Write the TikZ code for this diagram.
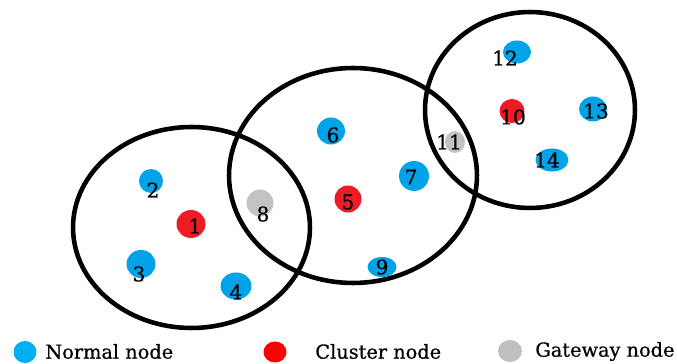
\documentclass[tikz,border=0pt]{standalone}
\usepackage{fontspec}
\setmainfont{DejaVu Serif}[FakeBold=0.6]
\usetikzlibrary{shapes.geometric}
\definecolor{nblue}{HTML}{00A2E8}
\definecolor{nred}{HTML}{ED1C24}
\definecolor{ngray}{HTML}{C3C3C3}
\definecolor{lblue}{HTML}{00B0F0}
\definecolor{lred}{HTML}{FF0000}
\definecolor{lgray}{HTML}{BFBFBF}
\tikzset{
  ring/.style={draw=black, line width=2.6pt},
  dot/.style={ellipse, inner sep=0pt, draw=none},
  normal/.style={dot, fill=nblue},
  head/.style={dot, fill=nred},
  gate/.style={dot, fill=ngray},
  num/.style={font=\fontsize{11.5}{13}\selectfont, inner sep=0pt, text=black},
  legtext/.style={font=\fontsize{11}{13}\selectfont, inner sep=0pt, anchor=west, text=black},
}
\begin{document}
\begin{tikzpicture}[x=0.02cm, y=-0.02cm]
\useasboundingbox (0,0) rectangle (677,364);

% cluster boundaries
\draw[ring] (191.5,227.5) ellipse [x radius=2.37cm, y radius=2.01cm];
\draw[ring] (353,175.5) ellipse [x radius=2.48cm, y radius=2.15cm];
\draw[ring] (530,110) ellipse [x radius=2.10cm, y radius=1.96cm];

% sensor nodes
\node[head,   minimum width=0.58cm, minimum height=0.56cm] (n1)  at (191,224) {};
\node[normal, minimum width=0.48cm, minimum height=0.48cm] (n2)  at (151,181) {};
\node[normal, minimum width=0.58cm, minimum height=0.56cm] (n3)  at (141,264) {};
\node[normal, minimum width=0.62cm, minimum height=0.54cm] (n4)  at (236,286) {};
\node[gate,   minimum width=0.54cm, minimum height=0.54cm] (n8)  at (260,203) {};
\node[normal, minimum width=0.56cm, minimum height=0.54cm] (n6)  at (331,131) {};
\node[normal, minimum width=0.60cm, minimum height=0.60cm] (n7)  at (414,176) {};
\node[head,   minimum width=0.54cm, minimum height=0.54cm] (n5)  at (348,199) {};
\node[normal, minimum width=0.58cm, minimum height=0.40cm] (n9)  at (382,267) {};
\node[gate,   minimum width=0.40cm, minimum height=0.44cm] (n11) at (455,142) {};
\node[normal, minimum width=0.56cm, minimum height=0.46cm] (n12) at (517,52)  {};
\node[head,   minimum width=0.50cm, minimum height=0.48cm] (n10) at (512,111) {};
\node[normal, minimum width=0.56cm, minimum height=0.50cm] (n13) at (593,109) {};
\node[normal, minimum width=0.66cm, minimum height=0.46cm] (n14) at (552,160) {};

% node numbers
\node[num] (t1)  at (195,226) {1};
\node[num] (t2)  at (153,190) {2};
\node[num] (t3)  at (139,274) {3};
\node[num] (t4)  at (236,292) {4};
\node[num] (t8)  at (263,214) {8};
\node[num] (t6)  at (333,135) {6};
\node[num] (t7)  at (411,177) {7};
\node[num] (t5)  at (348,202) {5};
\node[num] (t9)  at (382,267) {9};
\node[num] (t11) at (449,142) {11};
\node[num] (t12) at (505,58)  {12};
\node[num] (t10) at (513,117) {10};
\node[num] (t13) at (596,111) {13};
\node[num] (t14) at (547,160) {14};

% legend
\node[dot, fill=lblue, minimum width=0.46cm, minimum height=0.44cm] (k1) at (25,352) {};
\node[legtext] (k1t) at (45,351.5) {Normal node};
\node[dot, fill=lred, minimum width=0.46cm, minimum height=0.42cm] (k2) at (275,352) {};
\node[legtext] (k2t) at (315,351.5) {Cluster node};
\node[dot, fill=lgray, minimum width=0.48cm, minimum height=0.44cm] (k3) at (510,351) {};
\node[legtext] (k3t) at (535,351.5) {Gateway node};
\end{tikzpicture}
\end{document}
